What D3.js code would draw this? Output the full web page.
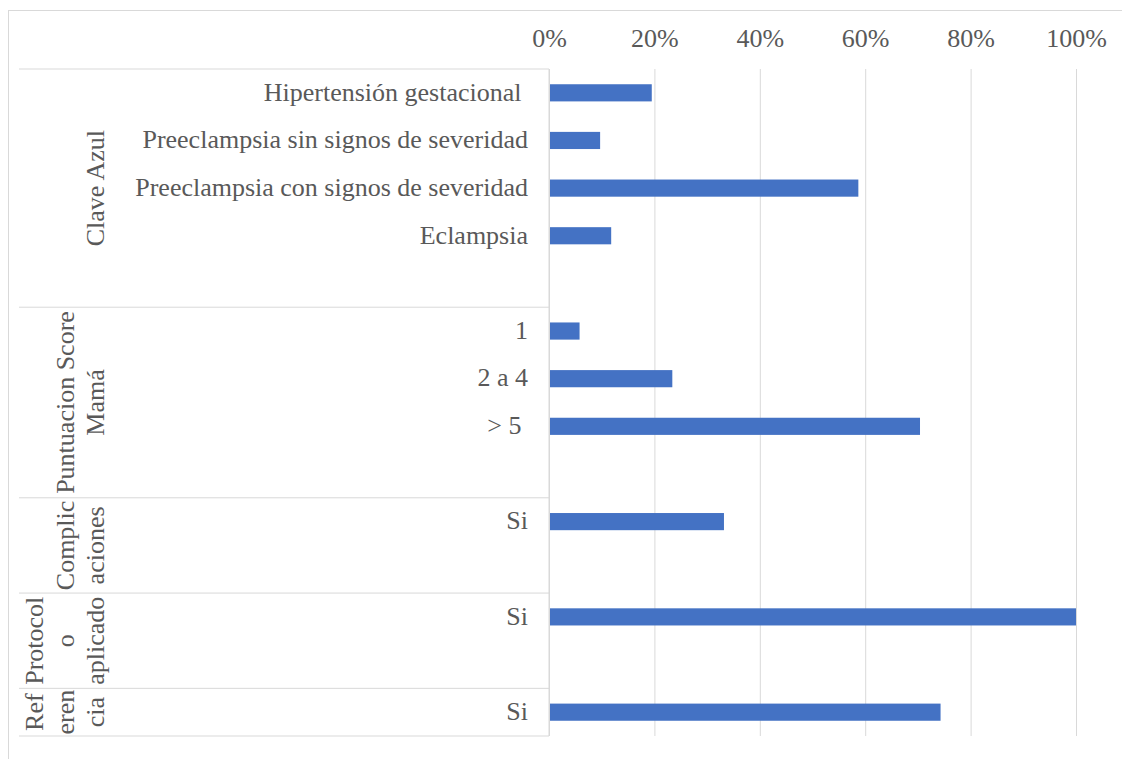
<!DOCTYPE html>
<html>
<head>
<meta charset="utf-8">
<script src="https://cdn.jsdelivr.net/npm/d3@7"></script>
<style>
  body { margin: 0; background: #fff; }
  svg text { font-family: "Liberation Serif", "Tinos", "Times New Roman", "DejaVu Serif", serif !important; fill: #595959; }
</style>
</head>
<body>
<div id="chart"></div>
<script>
// categories top to bottom, blank ones are the empty slots Excel leaves
var categories = ["Hipertensión gestacional ", "Preeclampsia sin signos de severidad",
  "Preeclampsia con signos de severidad", "Eclampsia", "",
  "1", "2 a 4", "> 5 ", "",
  "Si", "",
  "Si", "",
  "Si"];
var categoryGroup = [0, 0, 0, 0, 0, 1, 1, 1, 1, 2, 2, 3, 3, 4];
var values = [0.195, 0.097, 0.587, 0.118, null, 0.058, 0.234, 0.704, null, 0.332, null, 1.0, null, 0.743];
// group labels, already wrapped the way the picture shows them
var groupLines = [["Clave Azul"], ["Puntuacion Score", "Mamá"], ["Complic", "aciones"],
  ["Protocol", "o", "aplicado"], ["Ref", "eren", "cia"]];
var xTicks = [0, 0.2, 0.4, 0.6, 0.8, 1.0];

var width = 1122, height = 759;
var fontSize = 26;
var fontFamily = "'Liberation Serif', Tinos, 'Times New Roman', 'DejaVu Serif', serif";
var gridColor = "#d9d9d9";

var svg = d3.select("#chart").append("svg")
  .attr("width", width)
  .attr("height", height);

// outer chart border (cut off on the right and bottom)
svg.append("rect")
  .attr("x", 8.5).attr("y", 10.5)
  .attr("width", 1300).attr("height", 900)
  .attr("fill", "none")
  .attr("stroke", gridColor);

var plotTop = 69, plotBottom = 736;
var x = d3.scaleLinear().domain([0, 1]).range([549, 1076]);
var y = d3.scaleBand()
  .domain(d3.range(categories.length))
  .range([plotTop, plotBottom])
  .paddingInner(0.64)
  .paddingOuter(0.32);

// top axis with gridlines
var xAxis = d3.axisTop(x)
  .tickValues(xTicks)
  .tickFormat(d3.format(".0%"))
  .tickSize(-(plotBottom - plotTop))
  .tickPadding(22);

var ax = svg.append("g")
  .attr("transform", "translate(0," + plotTop + ")")
  .call(xAxis)
  .attr("font-family", fontFamily);
ax.select(".domain").remove();
ax.selectAll(".tick line").attr("stroke", gridColor);
ax.selectAll(".tick text")
  .style("font-size", fontSize + "px")
  .style("font-family", fontFamily)
  .attr("fill", "#595959");

// category axis line
svg.append("line")
  .attr("x1", x(0)).attr("x2", x(0))
  .attr("y1", plotTop).attr("y2", plotBottom)
  .attr("stroke", gridColor);

// group boundaries
var step = y.step();
var groups = d3.range(groupLines.length).map(function(gi) {
  var idx = categoryGroup.map(function(g, i) { return g === gi ? i : -1; })
    .filter(function(i) { return i >= 0; });
  return {
    top: plotTop + idx[0] * step,
    bottom: plotTop + (idx[idx.length - 1] + 1) * step,
    lines: groupLines[gi]
  };
});

var bounds = [plotTop].concat(groups.map(function(g) { return g.bottom; }));
svg.selectAll(".sep")
  .data(bounds)
  .enter().append("line")
  .attr("class", "sep")
  .attr("x1", 19).attr("x2", x(0))
  .attr("y1", function(d) { return d; })
  .attr("y2", function(d) { return d; })
  .attr("stroke", gridColor);

// group labels, rotated
var lineGap = 30.5, lastBaseline = 104;
groups.forEach(function(g) {
  var n = g.lines.length;
  var gl = svg.append("g")
    .attr("transform", "translate(0," + ((g.top + g.bottom) / 2) + ") rotate(-90)");
  gl.selectAll("text")
    .data(g.lines)
    .enter().append("text")
    .attr("x", 0)
    .attr("y", function(d, i) { return lastBaseline - (n - 1 - i) * lineGap; })
    .attr("text-anchor", "middle")
    .style("font-family", fontFamily)
    .style("font-size", fontSize + "px")
    .text(function(d) { return d; });
});

// category labels
svg.selectAll(".cat")
  .data(categories)
  .enter().append("text")
  .attr("class", "cat")
  .attr("x", 528)
  .attr("y", function(d, i) { return y(i) + y.bandwidth() / 2; })
  .attr("dy", "0.3em")
  .attr("text-anchor", "end")
  .style("white-space", "pre")
  .style("font-family", fontFamily)
  .style("font-size", fontSize + "px")
  .text(function(d) { return d; });

// bars
svg.selectAll(".bar")
  .data(values.map(function(v, i) { return { v: v, i: i }; })
    .filter(function(d) { return d.v !== null; }))
  .enter().append("rect")
  .attr("class", "bar")
  .attr("x", x(0) + 1)
  .attr("y", function(d) { return y(d.i); })
  .attr("width", function(d) { return x(d.v) - x(0) - 1; })
  .attr("height", y.bandwidth())
  .attr("fill", "#4472c4");
</script>
</body>
</html>
